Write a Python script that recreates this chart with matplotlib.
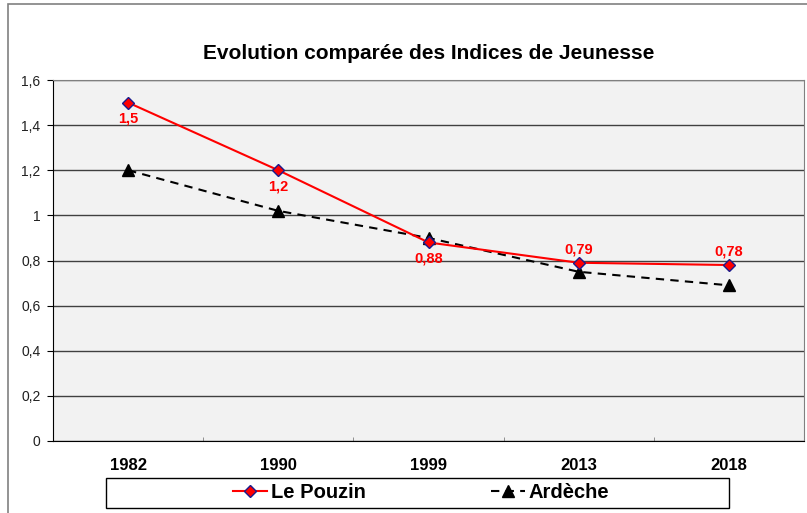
import matplotlib.pyplot as plt
from matplotlib.patches import Rectangle
from matplotlib.ticker import FixedLocator, FuncFormatter

plt.rcParams['font.family'] = ['Liberation Sans', 'DejaVu Sans']

years = ['1982', '1990', '1999', '2013', '2018']
le_pouzin = [1.5, 1.2, 0.88, 0.79, 0.78]
ardeche = [1.2, 1.02, 0.9, 0.75, 0.69]
label_pos = ['below', 'below', 'below', 'above', 'above']

fig = plt.figure(figsize=(8.07, 5.13), dpi=100)
# outer chart border
fig.patches.append(Rectangle((8 / 807, -0.1), 1.2, 1 - 4 / 513 + 0.1, transform=fig.transFigure,
                             fill=False, edgecolor='#808080', linewidth=1.2))
# legend box
fig.patches.append(Rectangle((106 / 807, 1 - 508 / 513), 623 / 807, 30 / 513, transform=fig.transFigure,
                             facecolor='white', edgecolor='black', linewidth=1))
ax = fig.add_axes([53 / 807, 1 - 441 / 513, 751 / 807, 361 / 513])
ax.set_facecolor('#f2f2f2')

x = list(range(len(years)))
ax.plot(x, ardeche, color='black', linestyle=(0, (4, 3)), linewidth=1.5,
        marker='^', markersize=8, markerfacecolor='black', markeredgecolor='black',
        label='Ardèche', zorder=3)
ax.plot(x, le_pouzin, color='#ff0000', linewidth=1.5,
        marker='D', markersize=6, markerfacecolor='#ff0000', markeredgecolor='#1a1a8c',
        markeredgewidth=1, label='Le Pouzin', zorder=4)

for xi, v, pos in zip(x, le_pouzin, label_pos):
    txt = ('%g' % v).replace('.', ',')
    dy = -11.5 if pos == 'below' else 9.5
    ax.annotate(txt, (xi, v), xytext=(0, dy), textcoords='offset points',
                ha='center', va='center', color='#ff0000', fontweight='bold', fontsize=10.5)

ax.set_xlim(-0.5, len(years) - 0.5)
ax.set_ylim(0, 1.6)
ax.yaxis.set_major_locator(FixedLocator([0, 0.2, 0.4, 0.6, 0.8, 1.0, 1.2, 1.4, 1.6]))
ax.yaxis.set_major_formatter(FuncFormatter(lambda v, p: ('%g' % round(v, 1)).replace('.', ',')))
ax.grid(axis='y', color='#404040', linewidth=1)
ax.set_axisbelow(True)

ax.set_xticks(x)
ax.set_xticklabels(years, fontweight='bold', fontsize=12)
ax.xaxis.set_minor_locator(FixedLocator([i - 0.5 for i in range(len(years) + 1)]))
ax.tick_params(axis='x', which='major', length=0, pad=12)
ax.tick_params(axis='x', which='minor', length=3, direction='in', color='#808080')
ax.tick_params(axis='y', length=4, labelsize=10, pad=5, labelcolor='#202020')

for s in ['top', 'right']:
    ax.spines[s].set_color('#808080')
for s in ['left', 'bottom']:
    ax.spines[s].set_color('black')

ax.set_title('Evolution comparée des Indices de Jeunesse', fontsize=15, fontweight='bold', pad=15)

handles, labels = ax.get_legend_handles_labels()
leg = fig.legend(handles[::-1], labels[::-1], loc='center',
                 bbox_to_anchor=(421 / 807, 1 - 493 / 513),
                 ncol=2, frameon=False,
                 prop={'weight': 'bold', 'size': 14.5}, columnspacing=6.2, handlelength=1.7,
                 handletextpad=0.2, borderaxespad=0, borderpad=0.2)

fig.savefig('out.png', dpi=100)
